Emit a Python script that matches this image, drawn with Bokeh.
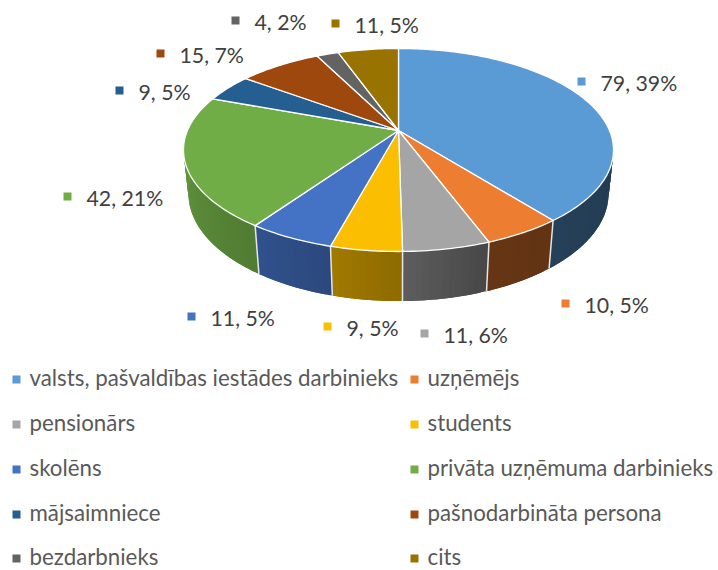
import numpy as np
from bokeh.plotting import figure
from bokeh.models import Range1d
from bokeh.core.properties import value as val
from bokeh.embed import file_html
from bokeh.resources import INLINE

categories = ["valsts, pašvaldības iestādes darbinieks", "uzņēmējs", "pensionārs", "students", "skolēns",
              "privāta uzņēmuma darbinieks", "mājsaimniece", "pašnodarbināta persona", "bezdarbnieks", "cits"]
values = [79, 10, 11, 9, 11, 42, 9, 15, 4, 11]
percent_labels = ["39%", "5%", "6%", "5%", "5%", "21%", "5%", "7%", "2%", "5%"]
colors = ["#5B9BD5", "#ED7D31", "#A5A5A5", "#FBBE00", "#4472C4", "#70AD47", "#255E91", "#9E480E", "#636363", "#997300"]

# layout (screen pixels)
label_mark_x = [581, 565, 424, 327, 191, 67, 119, 160, 235, 335]
label_mark_y = [81, 303, 333, 326, 316, 196, 90, 53, 20, 23]
legend_col_x = [16, 414]
legend_row_y = [379, 424, 469, 514, 558]
FONT = "Lato"

# perspective disc projection
CX, F, C, A, B, E, G = 398, 211, 0.192, -72.8, 130, 46.9, 0.0227
def project(theta, depth=0.0):
    u, v = np.sin(theta), np.cos(theta)
    w = 1 + C * v + G * depth
    return CX + F * u / w, (A * v + B + E * depth) / w

shade_t = [90, 159, 178, 195, 215, 260, 290]
shade_f = [.38, .43, .56, .64, .72, .86, .9]
def shaded(col, deg):
    f = float(np.interp(deg, shade_t, shade_f))
    r = [int(col[i:i+2], 16) for i in (1, 3, 5)]
    return "#%02x%02x%02x" % tuple(int(c * f) for c in r)

p = figure(width=718, height=570, output_backend="svg", toolbar_location=None,
           x_range=Range1d(0, 718), y_range=Range1d(570, 0), min_border=0,
           outline_line_color=None)
p.axis.visible = False
p.grid.visible = False
p.background_fill_color = "white"
p.border_fill_color = "white"

edges = np.cumsum([0] + values) / sum(values) * 2 * np.pi

# side walls: overlapping strips, later ones painted over earlier ones
sx, sy, sc = [], [], []
bx, by = [], []
for i, col in enumerate(colors):
    a0, a1 = edges[i], edges[i + 1]
    lo, hi = max(a0, np.pi / 2), min(a1, 1.5 * np.pi)
    if hi > lo:
        n = max(2, int(np.degrees(hi - lo) / 1.5))
        th = np.linspace(lo, hi, n + 1)
        for t0, t1 in zip(th[:-1], th[1:]):
            t2 = min(t1 + (t1 - t0), hi)
            tt = np.linspace(t0, t2, 4)
            xt, yt = project(tt)
            xb, yb = project(tt[::-1], 1.0)
            sx.append(np.r_[xt, xb].tolist())
            sy.append(np.r_[yt, yb].tolist())
            sc.append(shaded(col, np.degrees((t0 + t1) / 2)))
    if np.pi / 2 < a0 < 1.5 * np.pi:
        xt, yt = project(a0)
        xb, yb = project(a0, 1.0)
        bx.append([xt, xb]); by.append([yt, yb])
p.patches(sx, sy, fill_color=sc, line_color=None)
p.multi_line(bx, by, line_color="#e6e6e6", line_width=1.5)

# top slices
tx, ty = [], []
for a0, a1 in zip(edges[:-1], edges[1:]):
    th = np.linspace(a0, a1, max(6, int(np.degrees(a1 - a0))))
    x, y = project(th)
    tx.append([CX] + x.tolist())
    ty.append([B] + y.tolist())
p.patches(tx, ty, fill_color=colors, line_color="white", line_width=1.3, line_join="round")

# data labels
p.scatter(label_mark_x, label_mark_y, marker="square", size=8, fill_color=colors, line_color=None)
p.text([x + 19 for x in label_mark_x], [y + 1 for y in label_mark_y],
       text=[f"{v}, {q}" for v, q in zip(values, percent_labels)],
       text_font=val(FONT), text_font_size="21.3px", text_color="#404040", text_baseline="middle")

# legend
lx = [legend_col_x[i % 2] for i in range(len(categories))]
ly = [legend_row_y[i // 2] for i in range(len(categories))]
p.scatter(lx, ly, marker="square", size=8, fill_color=colors, line_color=None)
p.text([x + 13 for x in lx], [y - 2 for y in ly], text=categories, text_font=val(FONT), text_font_size="22.3px",
       text_color="#595959", text_baseline="middle")

open("out.html", "w").write(file_html(p, INLINE))
